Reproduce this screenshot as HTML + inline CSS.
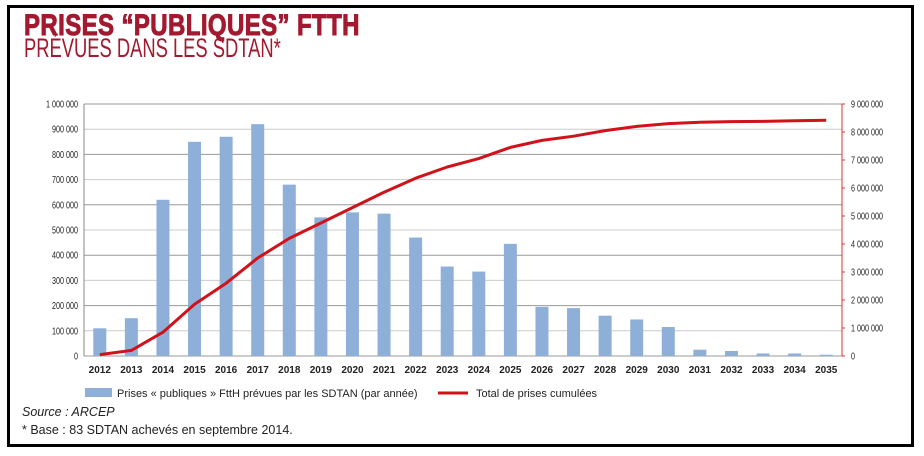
<!DOCTYPE html>
<html><head><meta charset="utf-8">
<style>
body{margin:0;background:#fff;width:924px;height:456px;overflow:hidden;font-family:"Liberation Sans",sans-serif}
#frame{position:absolute;left:7px;top:5px;width:901px;height:436px;border:3px solid #000}
.t{position:absolute;color:#a3192f;transform-origin:0 0;white-space:nowrap}
</style></head><body>
<div id="frame"></div>
<div class="t" style="left:24px;top:9px;font-size:30px;font-weight:bold;transform:scaleX(0.8);letter-spacing:0.5px;-webkit-text-stroke:1px #a3192f">PRISES “PUBLIQUES” FTTH</div>
<div class="t" style="left:24px;top:33px;font-size:27px;transform:scaleX(0.68)">PRÉVUES DANS LES SDTAN*</div>
<svg id="c" width="924" height="456" style="position:absolute;left:0;top:0"></svg>
<div style="position:absolute;left:22px;top:405px;font-size:12.5px;font-style:italic;color:#222">Source : ARCEP</div>
<div style="position:absolute;left:22px;top:423px;font-size:12.5px;color:#222">* Base : 83 SDTAN achevés en septembre 2014.</div>
<script>
const years=[2012,2013,2014,2015,2016,2017,2018,2019,2020,2021,2022,2023,2024,2025,2026,2027,2028,2029,2030,2031,2032,2033,2034,2035];
const annual=[110000,150000,620000,850000,870000,920000,680000,550000,570000,565000,470000,355000,335000,445000,195000,190000,160000,145000,115000,25000,20000,10000,10000,5000];
const cumul=[50000,200000,850000,1850000,2600000,3500000,4200000,4750000,5300000,5850000,6350000,6750000,7050000,7450000,7700000,7850000,8050000,8200000,8300000,8350000,8370000,8380000,8400000,8420000];
const leftTicks=[0,100000,200000,300000,400000,500000,600000,700000,800000,900000,1000000];
const rightTicks=[0,1000000,2000000,3000000,4000000,5000000,6000000,7000000,8000000,9000000];
const svg=document.getElementById('c');const NS='http://www.w3.org/2000/svg';
const X0=84,X1=842,Y0=356,Y1=104;const bw=(X1-X0)/years.length;
const xc=i=>X0+bw*(i+0.5);
const yl=v=>Y0-(Y0-Y1)*v/1000000;
const yr=v=>Y0-(Y0-Y1)*v/9000000;
function mk(t,a,txt){const e=document.createElementNS(NS,t);for(const k in a)e.setAttribute(k,a[k]);if(txt!==undefined)e.textContent=txt;svg.appendChild(e);return e;}
const fmt=v=>v.toLocaleString('en-US').replace(/,/g,' ');
leftTicks.forEach(v=>{const y=yl(v);
 const g=mk('line',{x1:X0,x2:X1,y1:y,y2:y,stroke:v%200000==0?'#999':'#ccc','stroke-width':1});
 
 
 const l=mk('text',{x:X0-6,y:y+3.5,'font-size':10,'text-anchor':'end',fill:'#222',transform:`translate(${X0-6} 0) scale(0.72 1) translate(${-(X0-6)} 0)`},fmt(v));
 
 
});
mk('line',{x1:X0,x2:X0,y1:Y1,y2:Y0,stroke:'#888'});
const ra=mk('line',{x1:X1,x2:X1,y1:Y1,y2:Y0,stroke:'#d33'});


rightTicks.forEach(v=>{const y=yr(v);
 mk('line',{x1:X1,x2:X1+3,y1:y,y2:y,stroke:'#d33'});
 const l=mk('text',{x:X1+9,y:y+3.5,'font-size':10,fill:'#222',transform:`translate(${X1+9} 0) scale(0.72 1) translate(${-(X1+9)} 0)`},fmt(v));
 
 
});
years.forEach((yy,i)=>{
 const b=mk('rect',{x:xc(i)-6.5,y:yl(annual[i]),width:13,height:Y0-yl(annual[i]),fill:'#8eb0d8'});
 
 
 const t=mk('text',{x:xc(i),y:373,'font-size':10,'font-weight':'bold','text-anchor':'middle',fill:'#222'},yy);
 
 
});
const ln=mk('polyline',{points:cumul.map((v,i)=>xc(i)+','+yr(v)).join(' '),fill:'none',stroke:'#d0121b','stroke-width':3,'stroke-linejoin':'round'});


const lb=mk('rect',{x:85,y:388,width:27,height:9,fill:'#8eb0d8'});


const lt=mk('text',{x:117,y:397,'font-size':11,fill:'#222'},'Prises « publiques » FttH prévues par les SDTAN (par année)');


const ll=mk('line',{x1:438,x2:468,y1:393,y2:393,stroke:'#d0121b','stroke-width':3});


const lt2=mk('text',{x:476,y:397,'font-size':11,fill:'#222'},'Total de prises cumulées');


</script>
</body></html>
